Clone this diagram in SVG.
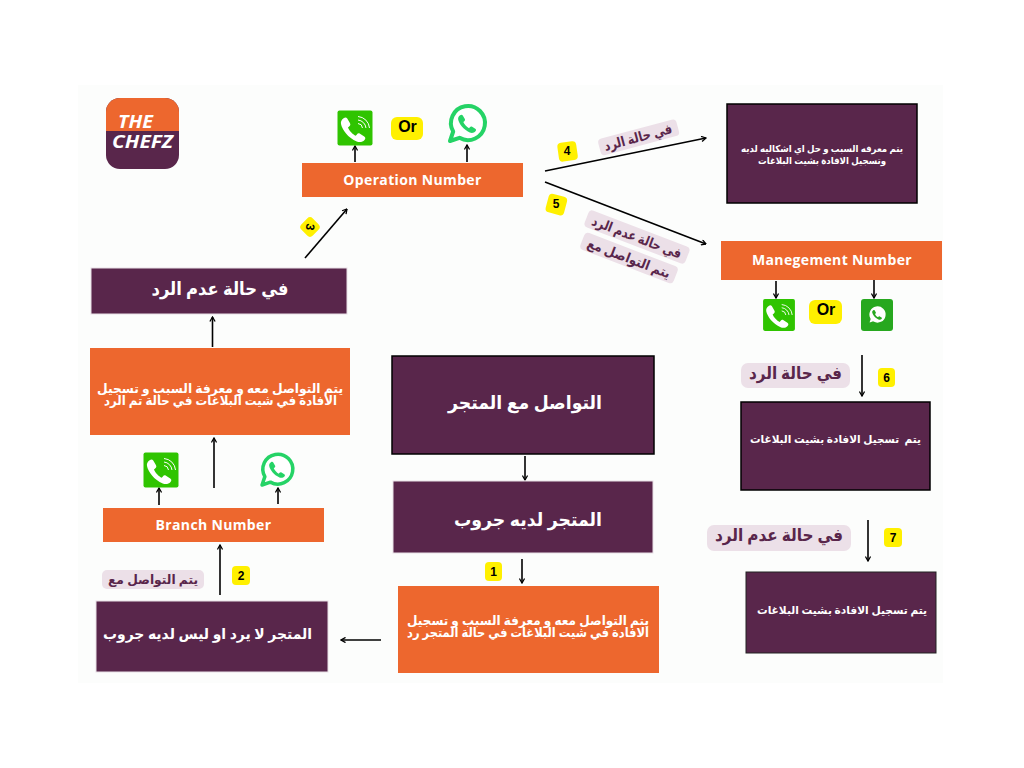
<svg xmlns="http://www.w3.org/2000/svg" width="1024" height="768" viewBox="0 0 1024 768">
<style>
.pu{fill:#59264b}.or{fill:#ed672e}
text{font-family:"Noto Sans","DejaVu Sans",sans-serif;text-anchor:middle}
.ar{fill:#fff;font-weight:700;direction:rtl}
.lat{fill:#fff;font-family:"Open Sans","Noto Sans",sans-serif;font-weight:700;font-size:14px;letter-spacing:.35px}
.tag{fill:#ece0e8}
.tt{fill:#59264b;font-weight:700;direction:rtl}
.by{fill:#fff000}
.n{fill:#000;font-family:"Liberation Sans",sans-serif;font-weight:700;font-size:12px}
.or2{fill:#000;font-family:"Liberation Sans",sans-serif;font-weight:700;font-size:16px}
.c{fill:none;stroke:#000;stroke-width:1.6;marker-end:url(#a)}
.ph{fill:#fff}
.lg{font-family:"Open Sans",sans-serif;font-size:18px;font-weight:700;font-style:italic;fill:#fff}
</style>
<defs>
<marker id="a" viewBox="0 0 10 10" refX="9" refY="5" markerWidth="6.500" markerHeight="6.500" markerUnits="userSpaceOnUse" orient="auto"><path d="M2 1L9 5L2 9" fill="none" stroke="#000" stroke-width="2"/></marker>
<path id="ph" d="M-7.500-9.500C-9-8.500-10-6.800-9.600-4.800C-8.800-.5-3.800 6.500 3 9.200C5.400 10.200 7.800 9.600 9.200 8C10.200 6.800 10 6 9 5.200L5.600 3C4.600 2.400 3.800 2.600 3.100 3.500L2.200 4.600C-.3 3.400-3 .4-4-2.100L-2.900-3C-2-3.800-1.900-4.600-2.500-5.600L-4.600-9.200C-5.300-10.300-6.400-10.300-7.500-9.500Z"/>
<g id="call"><rect x="-17.500" y="-17.500" width="35" height="35" rx="2" fill="#2fc400"/><use href="#ph" class="ph" transform="translate(-2 2) scale(1.25)"/><path d="M3-4.500A5 5 0 0 1 7.500 0M3-8A9 9 0 0 1 11 0M3-11.500A12.500 12.500 0 0 1 14.500 0" fill="none" stroke="#fff" stroke-width="1"/></g>
<g id="wa"><path d="M-17 17L-13.800 7.500A17 17 0 1 1-7.500 13.800Z" fill="#fff" stroke="currentColor" stroke-width="4" stroke-linejoin="round"/><use href="#ph" fill="currentColor" transform="scale(.92)"/></g>
</defs>
<rect width="1024" height="768" fill="#fff"/>
<rect x="78" y="85" width="865" height="598" fill="#fcfdfc"/>

<g id="logo">
<rect x="106" y="98" width="73" height="71" rx="14" class="pu"/>
<path d="M106 131V112A14 14 0 0 1 120 98H165A14 14 0 0 1 179 112V131Z" class="or"/>
<text x="135.500" y="128" class="lg" textLength="35" lengthAdjust="spacingAndGlyphs">THE</text>
<text x="142.500" y="148" class="lg" textLength="61" lengthAdjust="spacingAndGlyphs">CHEFZ</text>
</g>

<g id="connectors">
<path class="c" d="M355 162V146"/>
<path class="c" d="M467 162V145"/>
<path class="c" d="M305 258L347 209"/>
<path class="c" d="M545 171L706 138"/>
<path class="c" d="M545 182L706 244"/>
<path class="c" d="M776 281V298"/>
<path class="c" d="M874 280V298"/>
<path class="c" d="M862 355V396"/>
<path class="c" d="M868 520V561"/>
<path class="c" d="M212.500 347V317"/>
<path class="c" d="M214 488V438"/>
<path class="c" d="M159 505V488"/>
<path class="c" d="M278 504V488"/>
<path class="c" d="M220 595V545"/>
<path class="c" d="M525 456V480"/>
<path class="c" d="M522 559V583"/>
<path class="c" d="M381 640H341"/>
</g>

<g id="op-call"><use href="#call" transform="translate(355 128)"/></g>
<g id="or-1"><rect x="391" y="117" width="32" height="23" rx="6" class="by"/><text x="407.500" y="132" class="or2">Or</text></g>
<g id="op-wa"><use href="#wa" color="#25d366" transform="translate(467 124)"/></g>
<g id="operation"><rect x="302" y="163" width="221" height="34" class="or"/><text x="412.500" y="185" class="lat">Operation Number</text></g>

<g id="badge-3"><rect x="302" y="219" width="16" height="16" rx="4" class="by" transform="rotate(45 310 227)"/><text x="310" y="231" class="n" transform="rotate(100 310 227)">3</text></g>
<g id="no-reply"><rect x="91" y="268" width="256" height="46" class="pu" stroke="#e8e0e6"/><text x="220" y="295" class="ar" font-size="18" textLength="137" lengthAdjust="spacingAndGlyphs">في حالة عدم الرد</text></g>

<g id="tag-4"><rect x="598" y="129" width="81" height="17" rx="4" class="tag" transform="rotate(-15 638 137)"/><text x="638" y="142" class="tt" font-size="13.500" transform="rotate(-15 638 137)" textLength="70" lengthAdjust="spacingAndGlyphs">في حالة الرد</text></g>
<g id="badge-4"><rect x="558" y="142" width="19" height="19" rx="4" class="by" transform="rotate(-8 567 151)"/><text x="567" y="155" class="n">4</text></g>
<g id="badge-5"><rect x="547" y="195" width="19" height="19" rx="4" class="by" transform="rotate(15 556 204)"/><text x="556" y="208" class="n">5</text></g>
<g id="tag-5a"><rect x="583" y="228" width="108" height="18" rx="4" class="tag" transform="rotate(21 637 237)"/><text x="637" y="242" class="tt" font-size="13.500" transform="rotate(21 637 237)" textLength="95" lengthAdjust="spacingAndGlyphs">في حالة عدم الرد</text></g>
<g id="tag-5b"><rect x="579" y="249" width="100" height="18" rx="4" class="tag" transform="rotate(21 629 258)"/><text x="629" y="263" class="tt" font-size="13.500" transform="rotate(21 629 258)" textLength="88" lengthAdjust="spacingAndGlyphs">يتم التواصل مع</text></g>

<g id="resolve"><rect x="727" y="104" width="190" height="99" class="pu" stroke="#000" stroke-width="1.500"/><text x="822" y="152" class="ar" font-size="9.500" textLength="162" lengthAdjust="spacingAndGlyphs">يتم معرفه السبب و حل اي اشكاليه لديه</text><text x="822" y="163.500" class="ar" font-size="9.500" textLength="128" lengthAdjust="spacingAndGlyphs">وتسجيل الافادة بشيت البلاغات</text></g>
<g id="management"><rect x="721" y="241" width="221" height="39" class="or"/><text x="832" y="265" class="lat">Manegement Number</text></g>
<g id="mg-call"><use href="#call" transform="translate(779 315) scale(.91)"/></g>
<g id="or-2"><rect x="809" y="300" width="33" height="24" rx="6" class="by"/><text x="826" y="315" class="or2">Or</text></g>
<g id="mg-wa"><rect x="861" y="299" width="32" height="32" rx="3" fill="#27a81f"/><use href="#wa" color="#27a81f" transform="translate(877 315) scale(.54)"/></g>

<g id="tag-6"><rect x="741" y="363" width="109" height="25" rx="7" class="tag"/><text x="795.500" y="379" class="tt" font-size="17" textLength="93" lengthAdjust="spacingAndGlyphs">في حالة الرد</text></g>
<g id="badge-6"><rect x="878" y="368" width="17" height="19" rx="4" class="by"/><text x="886.500" y="382" class="n">6</text></g>
<g id="logged-6"><rect x="741" y="402" width="189" height="88" class="pu" stroke="#000" stroke-width="1.500"/><text x="835.500" y="443" class="ar" font-size="11" xml:space="preserve" textLength="171" lengthAdjust="spacingAndGlyphs">يتم  تسجيل الافادة بشيت البلاغات</text></g>

<g id="tag-7"><rect x="707" y="525" width="144" height="26" rx="7" class="tag"/><text x="779" y="541" class="tt" font-size="17" textLength="128" lengthAdjust="spacingAndGlyphs">في حالة عدم الرد</text></g>
<g id="badge-7"><rect x="884" y="528" width="18" height="19" rx="4" class="by"/><text x="893" y="542" class="n">7</text></g>
<g id="logged-7"><rect x="746" y="572" width="190" height="81" class="pu" stroke="#222" stroke-width="1"/><text x="842" y="614" class="ar" font-size="11" textLength="170" lengthAdjust="spacingAndGlyphs">يتم تسجيل الافادة بشيت البلاغات</text></g>

<g id="store"><rect x="392" y="356" width="262" height="98" class="pu" stroke="#000" stroke-width="1.500"/><text x="525" y="409" class="ar" font-size="18" textLength="154" lengthAdjust="spacingAndGlyphs">التواصل مع المتجر</text></g>
<g id="has-group"><rect x="393" y="481" width="260" height="72" class="pu" stroke="#e8e0e6"/><text x="528" y="526" class="ar" font-size="18" textLength="148" lengthAdjust="spacingAndGlyphs">المتجر لديه جروب</text></g>
<g id="badge-1"><rect x="485" y="562" width="17" height="19" rx="4" class="by"/><text x="493.500" y="576" class="n">1</text></g>
<g id="contact-store"><rect x="398" y="586" width="261" height="87" class="or"/><text x="528" y="625" class="ar" font-size="13" textLength="242" lengthAdjust="spacingAndGlyphs">يتم التواصل معه و معرفة السبب و تسجيل</text><text x="528" y="637" class="ar" font-size="13" textLength="242" lengthAdjust="spacingAndGlyphs">الافادة في شيت البلاغات في حالة المتجر رد</text></g>

<g id="contact-branch"><rect x="90" y="348" width="260" height="87" class="or"/><text x="220" y="393" class="ar" font-size="13" textLength="246" lengthAdjust="spacingAndGlyphs">يتم التواصل معه و معرفة السبب و تسجيل</text><text x="220.500" y="405" class="ar" font-size="13" textLength="233" lengthAdjust="spacingAndGlyphs">الافادة في شيت البلاغات في حالة تم الرد</text></g>
<g id="br-call"><use href="#call" transform="translate(161 470)"/></g>
<g id="br-wa"><use href="#wa" color="#25d366" transform="translate(277 470) scale(.88)"/></g>
<g id="branch"><rect x="103" y="508" width="221" height="34" class="or"/><text x="213.500" y="530" class="lat">Branch Number</text></g>
<g id="tag-2"><rect x="102" y="570" width="102" height="19" rx="5" class="tag"/><text x="153" y="584" class="tt" font-size="12.500" textLength="90" lengthAdjust="spacingAndGlyphs">يتم التواصل مع</text></g>
<g id="badge-2"><rect x="232" y="566" width="18" height="19" rx="4" class="by"/><text x="241" y="580" class="n">2</text></g>
<g id="no-group"><rect x="96" y="601" width="232" height="71" class="pu" stroke="#e8e0e6"/><text x="207.500" y="639" class="ar" font-size="14.500" textLength="209" lengthAdjust="spacingAndGlyphs">المتجر لا يرد او ليس لديه جروب</text></g>
</svg>
